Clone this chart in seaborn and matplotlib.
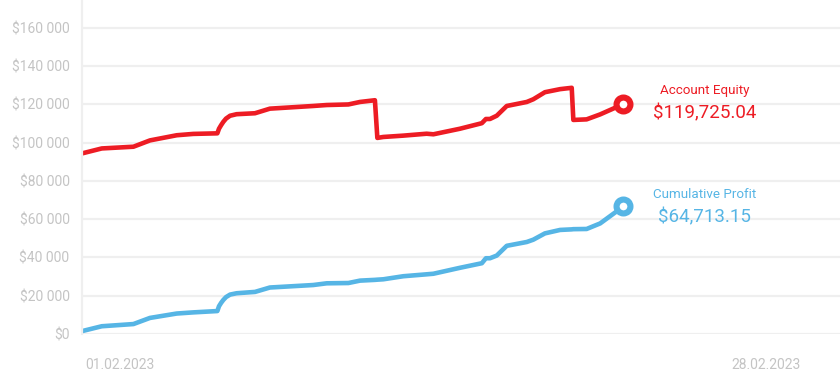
import matplotlib
matplotlib.use("Agg")
import matplotlib.pyplot as plt
import seaborn as sns
import pandas as pd
from matplotlib.ticker import FuncFormatter

# days since 01.02.2023
days = [0, 0.73, 1.90, 2.51, 3.50, 4.11, 5.00, 5.06, 5.14, 5.22, 5.32, 5.47,
        5.71, 6.39, 6.94, 8.54, 9.04, 9.84, 10.27, 10.82, 10.91, 11.13, 11.87,
        12.73, 12.98, 13.96, 14.77, 14.92, 15.07, 15.32, 15.69, 16.43, 16.67,
        17.10, 17.66, 18.09, 18.15, 18.64, 19.14, 20.00]

equity = [94400, 97000, 97900, 101200, 103900, 104600, 104900, 107300, 109200,
          110900, 112600, 114100, 114900, 115400, 117800, 119200, 119700,
          120000, 121300, 122200, 102500, 103000, 103700, 104700, 104400,
          107300, 110200, 112400, 112400, 114100, 119200, 121300, 122700,
          126400, 128000, 128700, 111900, 112200, 114800, 120200]

profit = [1500, 4050, 5200, 8400, 10700, 11300, 12000, 14500, 16300, 17800,
          19300, 20600, 21300, 22000, 24300, 25600, 26500, 26650, 27900, 28300,
          28400, 28600, 30200, 31200, 31500, 34600, 37000, 39600, 39600, 41000,
          46100, 48100, 49300, 52600, 54400, 54700, 54800, 54900, 57800, 66700]

equity_label = "$119,725.04"
profit_label = "$64,713.15"
tick_days = [1.4, 25.25]
tick_labels = ["01.02.2023", "28.02.2023"]
y_ticks = [0, 20000, 40000, 60000, 80000, 100000, 120000, 140000, 160000]

RED = "#ED1C24"
BLUE = "#56B5E5"
GREY = "#C4C4C4"
GRID = "#EFEFEF"

df = pd.DataFrame({"day": days, "Account Equity": equity, "Cumulative Profit": profit})

sns.set_style("white")
plt.rcParams["font.family"] = ["Roboto", "DejaVu Sans"]

fig = plt.figure(figsize=(8.4, 3.83), dpi=100)
ax = fig.add_axes([82 / 840, 1 - 334 / 383, 1 - 82 / 840, 334 / 383])

sns.lineplot(data=df, x="day", y="Account Equity", color=RED, linewidth=3.3, ax=ax)
sns.lineplot(data=df, x="day", y="Cumulative Profit", color=BLUE, linewidth=3.3, ax=ax)

# end markers (ring)
for col, c in [("Account Equity", RED), ("Cumulative Profit", BLUE)]:
    ax.plot(df["day"].iloc[-1], df[col].iloc[-1], marker="o", markersize=10,
            markerfacecolor="white", markeredgecolor=c, markeredgewidth=4.4, zorder=5)

ax.set_xlim(0, 28)
ax.set_ylim(0, 174600)
ax.set_yticks(y_ticks)
ax.yaxis.set_major_formatter(FuncFormatter(lambda v, p: "$" + f"{int(v):,}".replace(",", " ")))
ax.set_xticks(tick_days)
ax.set_xticklabels(tick_labels)
ax.tick_params(axis="y", length=0, pad=9, labelsize=10, labelcolor=GREY)
ax.tick_params(axis="x", length=0, pad=17, labelsize=10, labelcolor=GREY)
ax.set_xlabel("")
ax.set_ylabel("")

ax.grid(axis="y", color=GRID, linewidth=1.6)
ax.grid(axis="x", visible=False)
for s in ["top", "right", "bottom"]:
    ax.spines[s].set_visible(False)
ax.spines["left"].set_color(GRID)
ax.spines["left"].set_linewidth(1.6)
ax.set_axisbelow(True)

# labels next to the end points
tx = 23.0
ax.text(tx, 127500, "Account Equity", color=RED, fontsize=9.6, ha="center", va="center")
ax.text(tx, 115200, equity_label, color=RED, fontsize=13.5, ha="center", va="center")
ax.text(tx, 73000, "Cumulative Profit", color=BLUE, fontsize=9.6, ha="center", va="center")
ax.text(tx, 61200, profit_label, color=BLUE, fontsize=13.5, ha="center", va="center")

fig.savefig("out.png", dpi=100)
